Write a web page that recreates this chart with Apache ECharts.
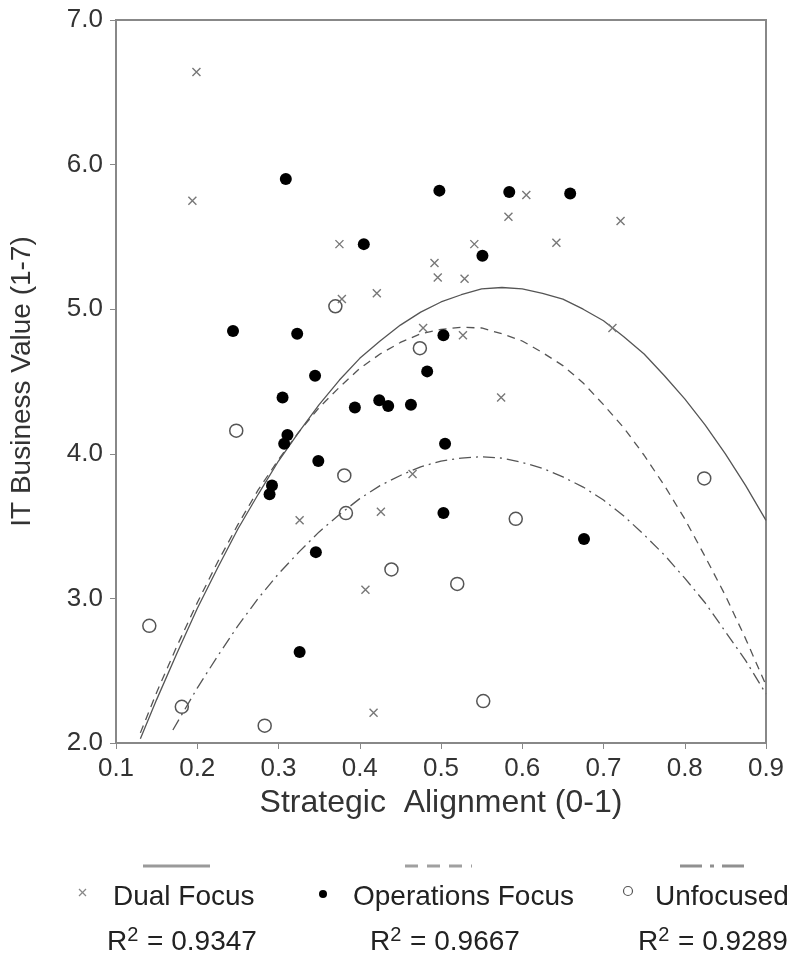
<!DOCTYPE html>
<html><head><meta charset="utf-8">
<script src="https://cdn.jsdelivr.net/npm/echarts@6/dist/echarts.min.js"></script>
<style>html,body{margin:0;padding:0;background:#fff}#c{width:795px;height:961px}</style>
</head><body><div id="c"></div>
<script>
// ---- data ----
const dualFocus = [[0.199,6.64],[0.194,5.75],[0.375,5.45],[0.492,5.32],[0.496,5.22],[0.421,5.11],[0.378,5.07],[0.478,4.87],[0.605,5.79],[0.583,5.64],[0.721,5.61],[0.541,5.45],[0.642,5.46],[0.529,5.21],[0.711,4.87],[0.527,4.82],[0.574,4.39],[0.465,3.86],[0.326,3.54],[0.426,3.60],[0.407,3.06],[0.417,2.21]];
const operationsFocus = [[0.309,5.90],[0.498,5.82],[0.405,5.45],[0.244,4.85],[0.323,4.83],[0.503,4.82],[0.345,4.54],[0.483,4.57],[0.584,5.81],[0.659,5.80],[0.551,5.37],[0.305,4.39],[0.394,4.32],[0.424,4.37],[0.435,4.33],[0.463,4.34],[0.311,4.13],[0.307,4.07],[0.505,4.07],[0.349,3.95],[0.292,3.78],[0.289,3.72],[0.503,3.59],[0.346,3.32],[0.326,2.63],[0.676,3.41]];
const unfocused = [[0.370,5.02],[0.474,4.73],[0.248,4.16],[0.381,3.85],[0.383,3.59],[0.439,3.20],[0.520,3.10],[0.141,2.81],[0.181,2.25],[0.283,2.12],[0.592,3.55],[0.824,3.83],[0.552,2.29]];
// fitted curves
const curveX = [0.13,0.15,0.175,0.2,0.225,0.25,0.275,0.3,0.325,0.35,0.375,0.4,0.425,0.45,0.475,0.5,0.525,0.55,0.575,0.6,0.625,0.65,0.675,0.7,0.725,0.75,0.775,0.8,0.825,0.85,0.875,0.9];
const dualCurveY = [2.03,2.30,2.62,2.93,3.21,3.48,3.72,3.95,4.15,4.34,4.51,4.66,4.78,4.89,4.98,5.05,5.10,5.14,5.15,5.14,5.11,5.07,5.00,4.92,4.81,4.69,4.54,4.38,4.20,4.00,3.78,3.54];
const opsCurveY  = [2.07,2.35,2.67,2.97,3.25,3.51,3.75,3.96,4.15,4.32,4.46,4.59,4.69,4.77,4.83,4.86,4.875,4.87,4.83,4.78,4.70,4.61,4.49,4.34,4.18,3.99,3.78,3.55,3.29,3.02,2.72,2.40];
const unfCurveX = [0.17,0.2,0.225,0.25,0.275,0.3,0.325,0.35,0.375,0.4,0.425,0.45,0.475,0.5,0.525,0.55,0.575,0.6,0.625,0.65,0.675,0.7,0.725,0.75,0.775,0.8,0.825,0.85,0.875,0.9];
const unfCurveY = [2.09,2.38,2.60,2.81,3.00,3.17,3.32,3.46,3.58,3.69,3.78,3.85,3.91,3.95,3.97,3.98,3.97,3.94,3.90,3.84,3.77,3.68,3.57,3.44,3.30,3.14,2.97,2.77,2.57,2.34];
const seriesNames = ['Dual Focus','Operations Focus','Unfocused'];
const rSquared = ['0.9347','0.9667','0.9289'];
const xTitle = 'Strategic  Alignment (0-1)';
const yTitle = 'IT Business Value (1-7)';

const zip = (xs, ys) => xs.map((x, i) => [x, ys[i]]);
const FONT = '"Liberation Sans", Arial, sans-serif';
const crossPath = 'path://M0,0L10,10M10,0L0,10';

const chart = echarts.init(document.getElementById('c'), null, {renderer: 'canvas'});
const lineBase = {type: 'line', showSymbol: false, smooth: false, silent: true, z: 2};
const legX = [113, 353, 655];
const rX = [107, 370, 638];
const graphics = [];
// legend line samples
graphics.push({type:'line', shape:{x1:143,y1:866,x2:210,y2:866}, style:{stroke:'#9a9a9a', lineWidth:3}});
graphics.push({type:'line', shape:{x1:405,y1:866,x2:472,y2:866}, style:{stroke:'#a0a0a0', lineWidth:3, lineDash:[13,9]}});
graphics.push({type:'line', shape:{x1:680,y1:866,x2:745,y2:866}, style:{stroke:'#909090', lineWidth:3, lineDash:[22,8,4,8]}});
// legend markers
graphics.push({type:'line', shape:{x1:79,y1:889,x2:86,y2:896}, style:{stroke:'#888', lineWidth:1.3}});
graphics.push({type:'line', shape:{x1:86,y1:889,x2:79,y2:896}, style:{stroke:'#888', lineWidth:1.3}});
graphics.push({type:'circle', shape:{cx:323, cy:894, r:4}, style:{fill:'#000'}});
graphics.push({type:'circle', shape:{cx:628, cy:891, r:4.5}, style:{fill:'#fff', stroke:'#555', lineWidth:1.2}});
seriesNames.forEach((n, i) => {
  graphics.push({type:'text', x: legX[i], y: 897, style: {text: n, font: '28px ' + FONT, fill: '#222', textVerticalAlign: 'middle', verticalAlign: 'middle'}});
  graphics.push({type:'text', x: rX[i], y: 942, style: {
    text: 'R{sup|2} = ' + rSquared[i], font: '28px ' + FONT, fill: '#222', textVerticalAlign: 'middle', verticalAlign: 'middle',
    rich: {sup: {fontSize: 20, fontFamily: FONT, fill: '#222', verticalAlign: 'top', padding: [0,1,14,0]}}
  }});
});

chart.setOption({
  animation: false,
  backgroundColor: '#fff',
  grid: {left: 114, right: 29, top: 20, bottom: 218, show: true, borderColor: '#888', borderWidth: 2},
  xAxis: {
    type: 'value', min: 0.1, max: 0.9, interval: 0.1,
    name: xTitle, nameLocation: 'middle', nameGap: 38,
    nameTextStyle: {fontFamily: FONT, fontSize: 32, color: '#333'},
    axisLine: {lineStyle: {color: '#888', width: 2}},
    axisTick: {length: 6, lineStyle: {color: '#888'}},
    axisLabel: {fontFamily: FONT, fontSize: 26, color: '#333', margin: 13, formatter: v => v.toFixed(1)},
    splitLine: {show: false}
  },
  yAxis: {
    type: 'value', min: 2, max: 7, interval: 1,
    name: yTitle, nameLocation: 'middle', nameGap: 80, nameRotate: 90,
    nameTextStyle: {fontFamily: FONT, fontSize: 28, color: '#333'},
    axisLine: {lineStyle: {color: '#888', width: 2}},
    axisTick: {length: 6, lineStyle: {color: '#888'}},
    axisLabel: {fontFamily: FONT, fontSize: 26, color: '#333', margin: 13, formatter: v => v.toFixed(1)},
    splitLine: {show: false}
  },
  graphic: graphics,
  series: [
    Object.assign({}, lineBase, {name: 'Dual fit', data: zip(curveX, dualCurveY), lineStyle: {color: '#555', width: 1.3}}),
    Object.assign({}, lineBase, {name: 'Ops fit', data: zip(curveX, opsCurveY), lineStyle: {color: '#555', width: 1.3, type: [8, 6]}}),
    Object.assign({}, lineBase, {name: 'Unf fit', data: zip(unfCurveX, unfCurveY), lineStyle: {color: '#555', width: 1.3, type: [12, 5, 2, 5]}}),
    {type: 'scatter', name: seriesNames[0], data: dualFocus, symbol: crossPath, symbolSize: 8, z: 3,
     itemStyle: {color: 'rgba(0,0,0,0)', borderColor: '#777', borderWidth: 1.4, opacity: 1}},
    {type: 'scatter', name: seriesNames[1], data: operationsFocus, symbol: 'circle', symbolSize: 12, z: 3,
     itemStyle: {color: '#000', opacity: 1}},
    {type: 'scatter', name: seriesNames[2], data: unfocused, symbol: 'circle', symbolSize: 13, z: 3,
     itemStyle: {color: 'rgba(255,255,255,0)', borderColor: '#555', borderWidth: 1.5, opacity: 1}}
  ]
});
</script></body></html>
